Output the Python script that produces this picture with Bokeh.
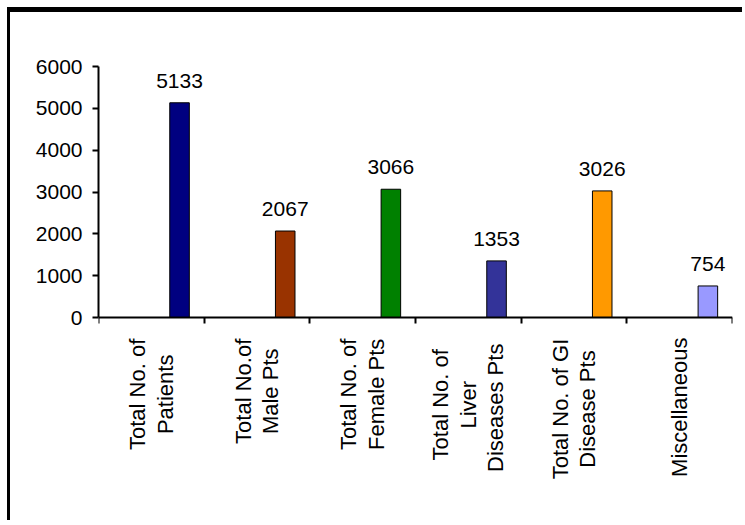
import math

from bokeh.core.properties import value
from bokeh.plotting import figure
from bokeh.models import ColumnDataSource, FixedTicker, LabelSet, Range1d
from bokeh.embed import file_html
from bokeh.resources import INLINE

# ---- data -------------------------------------------------------------
categories = [
    "Total No. of\nPatients",
    "Total No.of\nMale Pts",
    "Total No. of\nFemale Pts",
    "Total No. of\nLiver\nDiseases  Pts",
    "Total No. of GI\nDisease Pts",
    "Miscellaneous",
]
counts = [5133, 2067, 3066, 1353, 3026, 754]
bar_colors = ["#000080", "#993300", "#008000", "#333399", "#FF9900", "#9999FF"]
y_ticks = [0, 1000, 2000, 3000, 4000, 5000, 6000]

# ---- styling ----------------------------------------------------------
FONT = "Liberation Sans"
FONT_PX = 21           # tick and value labels
CAT_FONT_PX = 22       # category labels
BAR_SHIFT = 0.767      # bar centre inside each category slot (slot = 1 unit)
BAR_WIDTH = 0.185
LINE_PITCH = 27.5      # px between lines of a rotated category label
LABEL_GAP = 20         # px from the x axis to the start of the category labels

W, H = 735, 513
BORDER_L, BORDER_R, BORDER_T, BORDER_B = 88, 13, 54, 30
Y_MAX = 6000
ZERO_PX = 305          # canvas row of the value axis zero line
frame_h = H - BORDER_T - BORDER_B
px_per_unit = (ZERO_PX - BORDER_T) / Y_MAX
y_min = -(frame_h - (ZERO_PX - BORDER_T)) / px_per_unit

# Arial / Liberation Sans advance widths (1/1000 em) for measuring labels
ADV = {
    " ": 278, ".": 278, "T": 611, "o": 556, "t": 278, "a": 556, "l": 222,
    "N": 722, "f": 278, "P": 667, "i": 222, "e": 556, "n": 556, "s": 500,
    "M": 833, "F": 611, "m": 833, "L": 556, "v": 500, "r": 333, "D": 722,
    "G": 778, "I": 278, "c": 500, "u": 556,
}


def text_px(s, size):
    return sum(ADV.get(ch, 556) for ch in s) * size / 1000.0


n = len(categories)
source = ColumnDataSource(dict(
    x=[i + BAR_SHIFT for i in range(n)],
    top=counts,
    color=bar_colors,
    label=[str(v) for v in counts],
))

# one row per line of each rotated category label
lx, lxo, lyo, ltext = [], [], [], []
for i, cat in enumerate(categories):
    lines = cat.split("\n")
    longest = max(text_px(s, CAT_FONT_PX) for s in lines)
    for j, line in enumerate(lines):
        lx.append(i + 0.5)
        lxo.append((j - (len(lines) - 1) / 2.0) * LINE_PITCH)
        lyo.append(LABEL_GAP + longest / 2.0)
        ltext.append(line)
cat_source = ColumnDataSource(dict(x=lx, y=[0] * len(lx), xo=lxo, yo=lyo, text=ltext))

p = figure(
    width=W, height=H,
    x_range=Range1d(0, n), y_range=Range1d(y_min, Y_MAX),
    output_backend="svg", toolbar_location=None,
    min_border_left=BORDER_L, min_border_right=BORDER_R,
    min_border_top=BORDER_T, min_border_bottom=BORDER_B,
)
p.styles = {
    "margin-left": "7px",
    "margin-top": "7px",
    "border-top": "5px solid black",
    "border-left": "3px solid black",
}
p.background_fill_color = "white"
p.border_fill_color = "white"
p.outline_line_color = None
p.xgrid.visible = False
p.ygrid.visible = False

p.vbar(x="x", top="top", width=BAR_WIDTH, bottom=0, source=source,
       fill_color="color", line_color="black", line_width=1)

# value labels above the bars
p.add_layout(LabelSet(
    x="x", y="top", text="label", source=source, y_offset=15,
    text_align="center", text_baseline="alphabetic",
    text_font=value(FONT), text_font_size=value(f"{FONT_PX}px"), text_color="black",
))

# category labels, rotated to read upwards
p.text(x="x", y="y", text="text", x_offset="xo", y_offset="yo", source=cat_source,
       angle=math.pi / 2, text_align="center", text_baseline="middle",
       text_font=value(FONT), text_font_size=value(f"{CAT_FONT_PX}px"), text_color="black")

# axes
for ax in (p.xaxis[0], p.yaxis[0]):
    ax.axis_line_width = 2
    ax.axis_line_color = "black"
    ax.major_tick_line_width = 2
    ax.major_tick_line_color = "black"
    ax.major_tick_in = 0
    ax.major_tick_out = 6
    ax.minor_tick_line_color = None

p.yaxis.ticker = FixedTicker(ticks=y_ticks)
p.yaxis.bounds = (0, Y_MAX)
p.yaxis.major_label_standoff = 10
p.yaxis.major_label_text_font = FONT
p.yaxis.major_label_text_font_size = f"{FONT_PX}px"
p.yaxis.major_label_text_color = "black"

p.xaxis.ticker = FixedTicker(ticks=list(range(n + 1)))
p.xaxis.fixed_location = 0
p.xaxis.major_label_text_font_size = "0px"
p.xaxis.major_label_text_color = None

open("out.html", "w").write(file_html(p, INLINE))
